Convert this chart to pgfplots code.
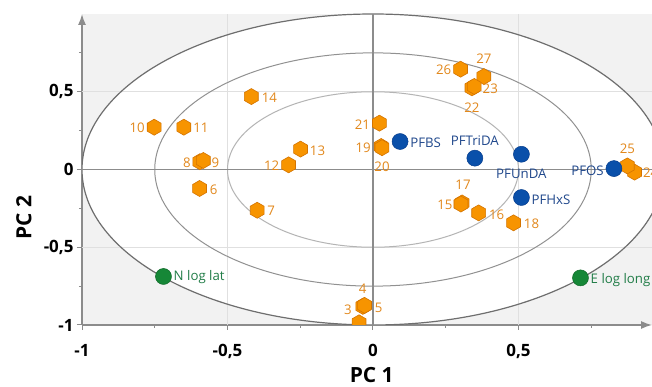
\documentclass[border=0pt]{standalone}
\usepackage{pgfplots}
\pgfplotsset{compat=1.18}
\usepackage{pgfplotstable}
\usepackage{fontspec}
\setmainfont{Open Sans}
\usetikzlibrary{arrows.meta}

\definecolor{hexfill}{RGB}{247,148,0}
\definecolor{hexedge}{RGB}{212,116,0}
\definecolor{hextext}{RGB}{226,136,28}
\definecolor{bluefill}{RGB}{10,80,170}
\definecolor{blueedge}{RGB}{5,60,140}
\definecolor{bluetext}{RGB}{32,72,140}
\definecolor{greenfill}{RGB}{22,135,55}
\definecolor{greenedge}{RGB}{15,105,40}
\definecolor{greentext}{RGB}{34,125,72}
\definecolor{bg}{RGB}{242,242,242}
\definecolor{axisgray}{RGB}{140,140,140}
\definecolor{gridgray}{RGB}{224,224,224}
\definecolor{c1}{RGB}{110,110,110}
\definecolor{c2}{RGB}{145,145,145}
\definecolor{c3}{RGB}{180,180,180}

\pgfdeclareplotmark{hex}{%
  \pgfpathmoveto{\pgfpointpolar{90}{\pgfplotmarksize}}%
  \pgfpathlineto{\pgfpointpolar{150}{\pgfplotmarksize}}%
  \pgfpathlineto{\pgfpointpolar{210}{\pgfplotmarksize}}%
  \pgfpathlineto{\pgfpointpolar{270}{\pgfplotmarksize}}%
  \pgfpathlineto{\pgfpointpolar{330}{\pgfplotmarksize}}%
  \pgfpathlineto{\pgfpointpolar{30}{\pgfplotmarksize}}%
  \pgfpathclose
  \pgfusepathqfillstroke
}

% orange samples: label centre offset (dx,dy) in bp
\pgfplotstableread[col sep=comma]{
x,y,lab,dx,dy
-0.752,0.272,10,-17,-1
-0.650,0.272,11,17,-1
-0.418,0.469,14,18,-1
-0.595,0.050,8,-13,-1
-0.583,0.058,9,12,-2
-0.596,-0.122,6,14,-1
-0.290,0.030,12,-17,-1
-0.249,0.131,13,17,-2
-0.398,-0.262,7,14,-1
0.022,0.298,21,-17,-2
0.028,0.148,19,-18,-1
0.031,0.140,20,0,-19
0.301,0.645,26,-17,-1
0.381,0.598,27,0,18
0.340,0.525,22,0,-20
0.348,0.534,23,16,-2
0.306,-0.215,17,1,18
0.302,-0.222,15,-16,-1
0.363,-0.279,16,18,-2
0.483,-0.343,18,18,-1
-0.032,-0.877,4,-1,17
-0.035,-0.880,3,-15,-3
-0.029,-0.874,5,14,-2
0.899,-0.017,24,16,-1
0.874,0.023,25,0,17
}\orangedata

\pgfplotstableread[col sep=comma]{
x,y,lab,dx,dy
0.093,0.180,PFBS,10,-1
0.510,-0.180,PFHxS,10,-2
}\bluewest
\pgfplotstableread[col sep=comma]{
x,y,lab,dx,dy
0.350,0.073,PFTriDA,0,18
0.510,0.098,PFUnDA,0,-20
}\bluecenter
\pgfplotstableread[col sep=comma]{
x,y,lab,dx,dy
0.828,0.006,PFOS,-10,-2
}\blueeast

\pgfplotstableread[col sep=comma]{
x,y,lab,dx,dy
-0.720,-0.688,N log lat,10,-1
0.713,-0.697,E log long,10,-2
}\greendata

\pgfplotsset{
  lbl/.style 2 args={
    point meta=explicit symbolic,
    nodes near coords,
    visualization depends on={\thisrow{dx}\as\dx},
    visualization depends on={\thisrow{dy}\as\dy},
    every node near coord/.style={anchor=#2, xshift=\dx bp, yshift=\dy bp, inner sep=0pt, font=\fontsize{13.3}{15}\selectfont, text=#1},
  },
  hexmk/.style={only marks, mark=hex, mark size=8bp, mark options={fill=hexfill, draw=hexedge, line width=0.6bp}},
  bluemk/.style={only marks, mark=*, mark size=8bp, mark options={fill=bluefill, draw=blueedge, line width=0.5bp}},
  greenmk/.style={only marks, mark=*, mark size=8bp, mark options={fill=greenfill, draw=greenedge, line width=0.5bp}},
}

\begin{document}
\begin{tikzpicture}
\useasboundingbox (0,0) rectangle (652bp,387bp);
\begin{axis}[
  at={(82bp,62bp)}, anchor=south west,
  scale only axis, width=570bp, height=311bp,
  xmin=-1, xmax=0.9588, ymin=-1, ymax=1,
  axis lines=left,
  axis line style={draw=axisgray, line width=1.4bp, -{Latex[length=11bp,width=8bp]}},
  axis background/.style={fill=bg},
  xtick={-1,-0.5,0,0.5}, xticklabels={-1,{-0,5},0,{0,5}},
  ytick={-1,-0.5,0,0.5}, yticklabels={-1,{-0,5},0,{0,5}},
  minor xtick={-0.75,-0.25,0.25,0.75}, minor ytick={-0.75,-0.25,0.25,0.75},
  tick align=outside, major tick length=5bp, minor tick length=3bp,
  tick style={axisgray, line width=1bp},
  tick label style={font=\bfseries\fontsize{17}{19}\selectfont, text=black},
  xticklabel style={yshift=-11bp},
  yticklabel style={xshift=0bp},
  /pgf/number format/assume math mode=true,
  clip marker paths=true,
]
\fill[white] (axis cs:0,0) ellipse [x radius=1, y radius=1];
\draw[gridgray, line width=1bp] (axis cs:-0.5,-1) -- (axis cs:-0.5,1);
\draw[gridgray, line width=1bp] (axis cs:0.5,-1) -- (axis cs:0.5,1);
\draw[gridgray, line width=1bp] (axis cs:-1,0.5) -- (axis cs:1,0.5);
\draw[gridgray, line width=1bp] (axis cs:-1,-0.5) -- (axis cs:1,-0.5);
\draw[c1, line width=1.2bp] (axis cs:0,0) ellipse [x radius=1, y radius=1];
\draw[c2, line width=1bp] (axis cs:0,0) ellipse [x radius=0.75, y radius=0.75];
\draw[c3, line width=1bp] (axis cs:0,0) ellipse [x radius=0.5, y radius=0.5];
\draw[axisgray, line width=1.3bp] (axis cs:0,-1) -- (axis cs:0,1);
\draw[axisgray, line width=1.3bp] (axis cs:-1,0) -- (axis cs:1,0);

\addplot[hexmk] coordinates {(-0.048,-0.986)};
\addplot[hexmk, lbl={hextext}{center}] table[x=x, y=y, meta=lab] {\orangedata};
\addplot[bluemk, lbl={bluetext}{west}] table[x=x, y=y, meta=lab] {\bluewest};
\addplot[bluemk, lbl={bluetext}{center}] table[x=x, y=y, meta=lab] {\bluecenter};
\addplot[bluemk, lbl={bluetext}{east}] table[x=x, y=y, meta=lab] {\blueeast};
\addplot[greenmk, lbl={greentext}{west}] table[x=x, y=y, meta=lab] {\greendata};
\end{axis}
\node[font=\bfseries\fontsize{21}{25}\selectfont, inner sep=0pt] at (371.7bp,12bp) {PC 1};
\node[font=\bfseries\fontsize{21}{25}\selectfont, inner sep=0pt, rotate=90] at (24bp,169.3bp) {PC 2};
\end{tikzpicture}
\end{document}
